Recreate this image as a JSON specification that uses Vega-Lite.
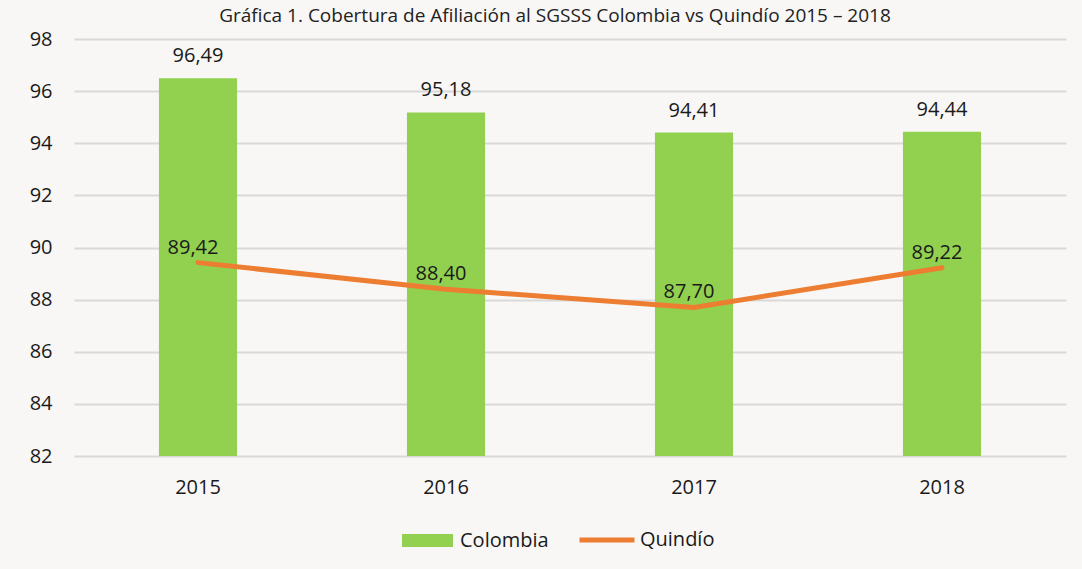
{
  "$schema": "https://vega.github.io/schema/vega-lite/v6.json",
  "width": 992,
  "height": 417,
  "autosize": {"type": "none"},
  "padding": {"left": 74, "top": 39, "right": 16, "bottom": 113},
  "background": "#f8f7f5",
  "config": {
    "locale": {"number": {"decimal": ",", "thousands": ".", "grouping": [3], "currency": ["$", ""]}},
    "view": {"stroke": null},
    "font": "Open Sans"
  },
  "title": {
    "text": "Gráfica 1. Cobertura de Afiliación al SGSSS Colombia vs Quindío 2015 – 2018",
    "frame": "group",
    "anchor": "middle",
    "baseline": "alphabetic",
    "offset": -12,
    "dx": -15,
    "fontSize": 19,
    "fontWeight": "normal",
    "color": "#222222"
  },
  "data": {
    "values": [
      {"year": "2015", "serie": "Colombia", "value": 96.49},
      {"year": "2016", "serie": "Colombia", "value": 95.18},
      {"year": "2017", "serie": "Colombia", "value": 94.41},
      {"year": "2018", "serie": "Colombia", "value": 94.44},
      {"year": "2015", "serie": "Quindío", "value": 89.42},
      {"year": "2016", "serie": "Quindío", "value": 88.40},
      {"year": "2017", "serie": "Quindío", "value": 87.70},
      {"year": "2018", "serie": "Quindío", "value": 89.22}
    ]
  },
  "encoding": {
    "x": {
      "field": "year",
      "type": "ordinal",
      "scale": {"paddingInner": 0.685, "paddingOuter": 0.3425},
      "axis": {
        "title": null,
        "labelAngle": 0,
        "domain": false,
        "ticks": false,
        "labelPadding": 21,
        "labelFontSize": 20,
        "labelColor": "#1a1a1a"
      }
    }
  },
  "layer": [
    {
      "transform": [{"filter": "datum.serie === 'Colombia'"}],
      "mark": {"type": "bar"},
      "encoding": {
        "y": {
          "field": "value",
          "type": "quantitative",
          "scale": {"domain": [82, 98], "nice": false, "zero": false},
          "axis": {
            "title": null,
            "values": [82, 84, 86, 88, 90, 92, 94, 96, 98],
            "domain": false,
            "ticks": false,
            "labelPadding": 22,
            "labelFontSize": 20,
            "labelColor": "#1a1a1a",
            "gridColor": "#d9d9d9",
            "gridWidth": 2
          }
        },
        "y2": {"datum": 82},
        "fill": {
          "field": "serie",
          "type": "nominal",
          "scale": {"domain": ["Colombia"], "range": ["#92d050"]},
          "legend": {
            "title": null,
            "orient": "none",
            "legendX": 328,
            "legendY": 476,
            "symbolType": "M-1,-0.255H1V0.255H-1Z",
            "symbolSize": 2601,
            "symbolOpacity": 1,
            "symbolStrokeWidth": 0,
            "labelFontSize": 20,
            "labelColor": "#1a1a1a",
            "labelOffset": 7
          }
        }
      }
    },
    {
      "transform": [{"filter": "datum.serie === 'Colombia'"}],
      "mark": {"type": "text", "baseline": "alphabetic", "dy": -16, "fontSize": 20, "color": "#1a1a1a"},
      "encoding": {
        "y": {"field": "value", "type": "quantitative"},
        "text": {"field": "value", "type": "quantitative", "format": ".2f"}
      }
    },
    {
      "transform": [{"filter": "datum.serie === 'Quindío'"}],
      "mark": {"type": "line", "strokeWidth": 5, "strokeCap": "round"},
      "encoding": {
        "y": {"field": "value", "type": "quantitative"},
        "stroke": {
          "field": "serie",
          "type": "nominal",
          "scale": {"domain": ["Quindío"], "range": ["#ed7d31"]},
          "legend": {
            "title": null,
            "orient": "none",
            "legendX": 503,
            "legendY": 471,
            "symbolType": "stroke",
            "symbolSize": 3025,
            "symbolStrokeWidth": 5,
            "labelFontSize": 20,
            "labelColor": "#1a1a1a",
            "labelOffset": 3
          }
        }
      }
    },
    {
      "transform": [{"filter": "datum.serie === 'Quindío'"}],
      "mark": {"type": "text", "baseline": "alphabetic", "dy": -9, "dx": -5, "fontSize": 20, "color": "#1a1a1a"},
      "encoding": {
        "y": {"field": "value", "type": "quantitative"},
        "text": {"field": "value", "type": "quantitative", "format": ".2f"}
      }
    }
  ]
}
